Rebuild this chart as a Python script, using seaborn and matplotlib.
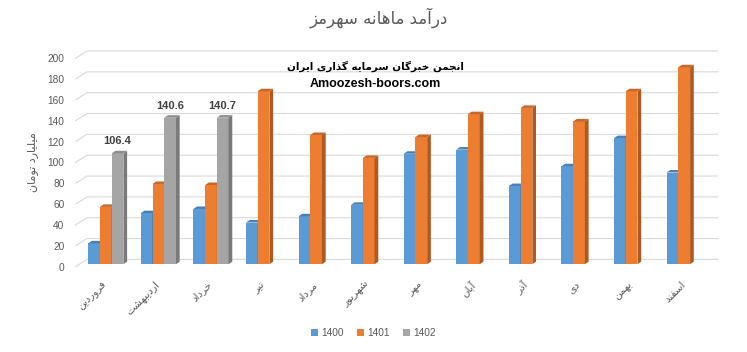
import numpy as np
import pandas as pd
import matplotlib
matplotlib.use("Agg")
import matplotlib.pyplot as plt
import seaborn as sns
from matplotlib.patches import Polygon
from matplotlib.transforms import Affine2D

# --- data (milliard toman) ---
months = ["فروردین", "اردیبهشت", "خرداد", "تیر", "مرداد", "شهریور",
          "مهر", "آبان", "آذر", "دی", "بهمن", "اسفند"]
years = ["1400", "1401", "1402"]
rev_1400 = [20, 49, 53, 40, 46, 57, 106, 110, 75, 94, 121, 88]
rev_1401 = [55, 77, 76, 166, 124, 102, 122, 144, 150, 137, 166, 189]
rev_1402 = [106.4, 140.6, 140.7]

title = "درآمد ماهانه سهرمز"
ylabel = "میلیارد تومان"
brand_fa = "انجمن خبرگان سرمایه گذاری ایران"
brand_en = "Amoozesh-boors.com"

colors = ["#5b9bd5", "#ed7d31", "#a5a5a5"]
side_colors = ["#41719c", "#ae5a21", "#7a7a7a"]
top_colors = ["#4a80b8", "#c9662a", "#8d8d8d"]
text_grey = "#595959"


# minimal arabic shaping (matplotlib has no bidi / joining support)
DUAL = {"ب": 0xFE8F, "ت": 0xFE95, "ج": 0xFE9D, "خ": 0xFEA5, "س": 0xFEB1,
        "ش": 0xFEB5, "ف": 0xFED1, "ل": 0xFEDD, "م": 0xFEE1, "ن": 0xFEE5,
        "ه": 0xFEE9, "ی": 0xFBFC, "گ": 0xFB92}
RIGHT = {"ا": 0xFE8D, "آ": 0xFE81, "د": 0xFEA9, "ذ": 0xFEAB, "ر": 0xFEAD,
         "ز": 0xFEAF, "و": 0xFEED}


def shape(text):
    out = []
    for i, ch in enumerate(text):
        if ch not in DUAL and ch not in RIGHT:
            out.append(ch)
            continue
        prev = text[i - 1] if i > 0 else ""
        nxt = text[i + 1] if i + 1 < len(text) else ""
        idx = 1 if prev in DUAL else 0
        if ch in DUAL and (nxt in DUAL or nxt in RIGHT):
            idx += 2
        base = DUAL.get(ch, RIGHT.get(ch))
        out.append(chr(base + idx))
    return "".join(reversed(out))


df = pd.DataFrame({
    "month": months * 3,
    "year": ["1400"] * 12 + ["1401"] * 12 + ["1402"] * 12,
    "value": rev_1400 + rev_1401 + rev_1402 + [np.nan] * 9,
})

sns.set_style("white")
plt.rcParams["font.family"] = ["Liberation Sans", "DejaVu Sans"]

fig = plt.figure(figsize=(7.47, 3.52), dpi=100)
ax = fig.add_axes([75.5 / 747, 1 - 266.7 / 352, 631 / 747, 208.4 / 352])

sns.barplot(data=df, x="month", y="value", hue="year", order=months,
            hue_order=years, palette=colors, saturation=1, width=0.67,
            errorbar=None, ax=ax, linewidth=0)

ax.set_xlim(-0.5, 11.5)
ax.set_ylim(0, 200)
ax.set_yticks(range(0, 201, 20))
for s in ax.spines.values():
    s.set_visible(False)
ax.grid(False)

bb = ax.get_window_extent()
ux = 12 / bb.width     # data units per pixel
uy = 200 / bb.height

# back wall gridlines with the little perspective slant on the left
bx, by = 11.5 * ux, 7.3 * uy
for v in range(0, 201, 20):
    ax.plot([-0.5, -0.5 + bx, 11.5 + bx], [v, v + by, v + by],
            color="#d9d9d9", lw=0.8, zorder=0.5, clip_on=False)

# 3d look for the bars: push them back a little and add side / top faces
bar_tr = ax.transData + Affine2D().translate(4, 2.5)
dx, dy = 3.7 * ux, 2.5 * uy
for i, cont in enumerate(ax.containers):
    z = 2 + i * 0.1
    for p in cont.patches:
        h = p.get_height()
        if not np.isfinite(h) or h == 0:
            continue
        p.set_transform(bar_tr)
        p.set_zorder(z)
        x0, x1 = p.get_x(), p.get_x() + p.get_width()
        side = Polygon([[x1, 0], [x1 + dx, dy], [x1 + dx, h + dy], [x1, h]],
                       closed=True, facecolor=side_colors[i], lw=0,
                       transform=bar_tr, zorder=z, clip_on=False)
        top = Polygon([[x0, h], [x1, h], [x1 + dx, h + dy], [x0 + dx, h + dy]],
                      closed=True, facecolor=top_colors[i], lw=0,
                      transform=bar_tr, zorder=z, clip_on=False)
        ax.add_patch(side)
        ax.add_patch(top)
        p.set_clip_on(False)

# value labels on the 1402 bars
for p in ax.containers[2].patches:
    h = p.get_height()
    if not np.isfinite(h):
        continue
    ax.text(p.get_x() + p.get_width() / 2, h + 12 * uy, f"{h:.1f}",
            transform=bar_tr, ha="center", va="center", fontsize=8,
            fontweight="bold", color="#404040", zorder=5)

ax.set_xlabel("")
ax.set_ylabel("")
ax.set_xticks(range(12))
ax.set_xticklabels([shape(m) for m in months], rotation=45, ha="right",
                   rotation_mode="anchor", family="DejaVu Sans", fontsize=7.5,
                   color=text_grey)
ax.tick_params(axis="x", length=0, pad=9)
ax.tick_params(axis="y", length=0, pad=8, labelsize=7.3, labelcolor=text_grey)

handles, labels = ax.get_legend_handles_labels()
ax.get_legend().remove()
fig.legend(handles, labels, loc="center", bbox_to_anchor=(373.5 / 747, 1 - 333 / 352),
           ncol=3, frameon=False, fontsize=7.3, handlelength=0.7, handleheight=0.7,
           handletextpad=0.3, columnspacing=1.3, labelcolor=text_grey)

fig.text(379 / 747, 1 - 18 / 352, shape(title), ha="center", va="center",
         fontsize=12, color=text_grey, family="DejaVu Sans")
fig.text(33 / 747, 1 - 162 / 352, shape(ylabel), ha="center", va="center",
         rotation=90, fontsize=8, color=text_grey, family="DejaVu Sans")
fig.text(375 / 747, 1 - 66 / 352, shape(brand_fa), ha="center", va="center",
         fontsize=7.5, fontweight="bold", color="black", family="DejaVu Sans")
fig.text(375 / 747, 1 - 84.3 / 352, brand_en, ha="center", va="center",
         fontsize=9, fontweight="bold", color="black")

fig.savefig("out.png", dpi=100)
